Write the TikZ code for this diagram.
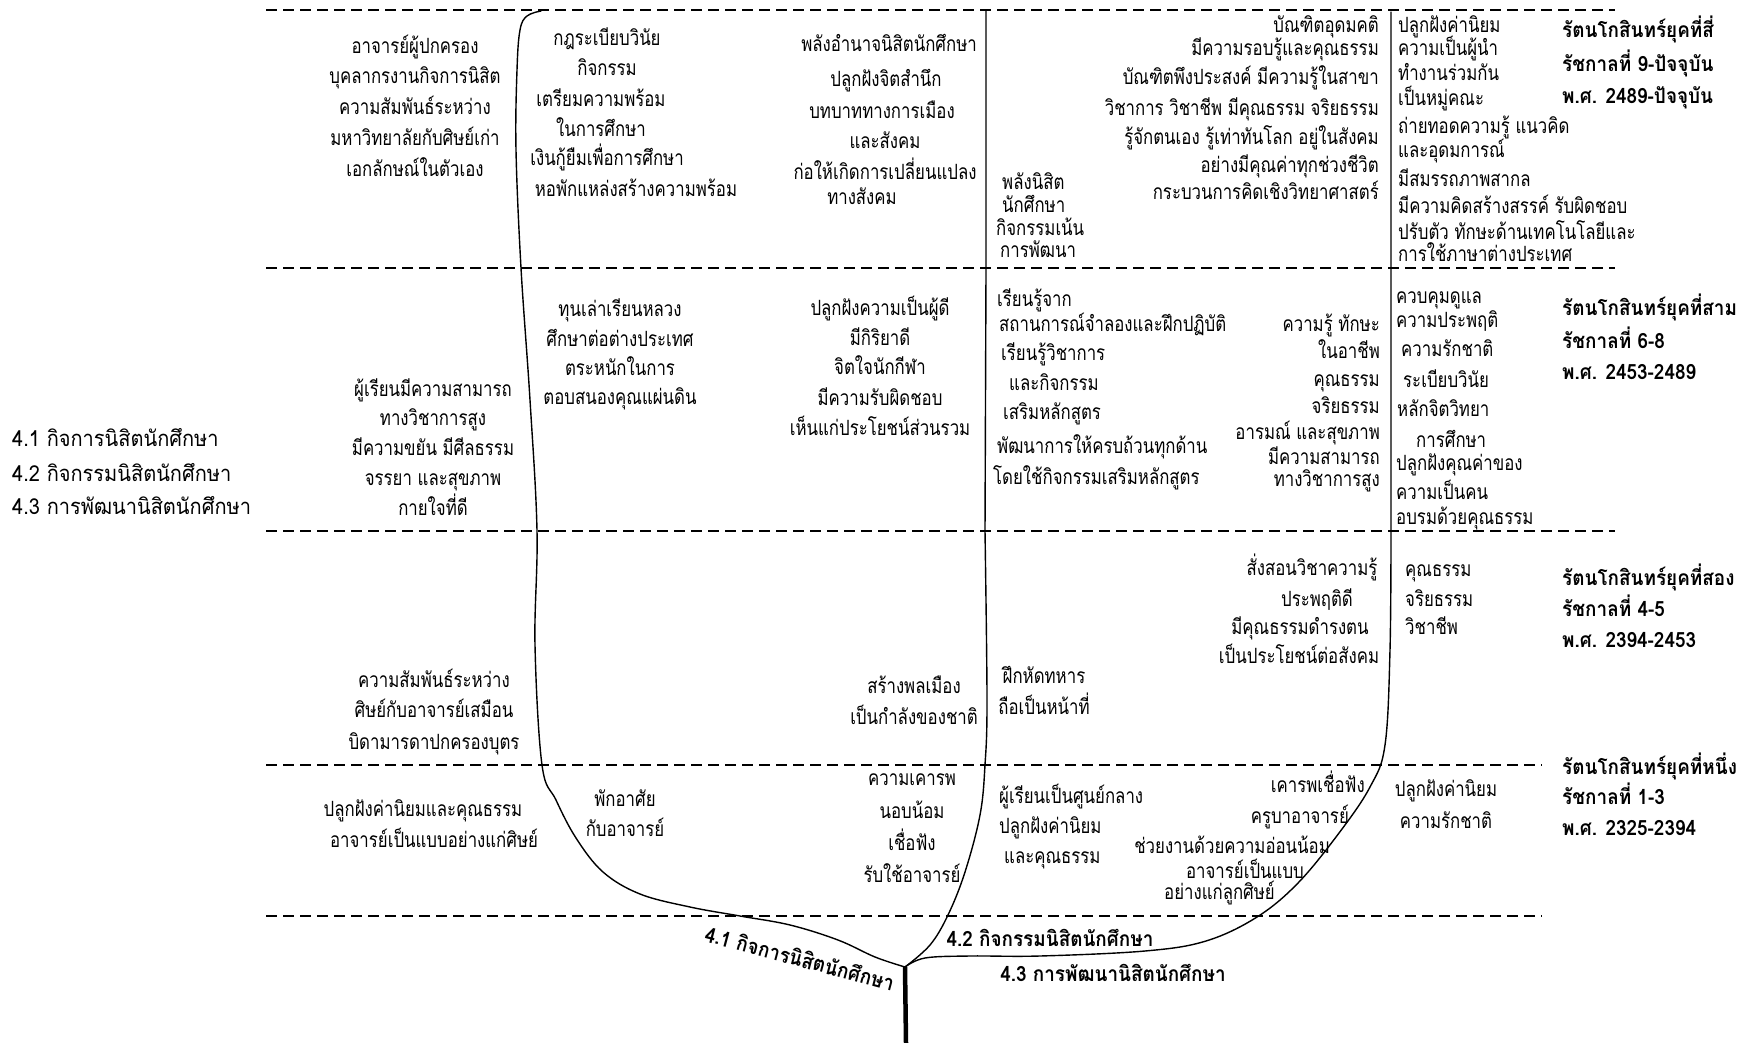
\documentclass[tikz,border=0pt]{standalone}
\usepackage{fontspec}
\newfontfamily\thbody[Script=Thai,FakeStretch=0.8]{Loma}
\newfontfamily\thside[Script=Thai,FakeStretch=0.91]{Loma}
\newfontfamily\thbold[Script=Thai,FakeStretch=0.9]{Loma}
\begin{document}
\begin{tikzpicture}[x=1pt,y=-1pt,
 tx/.style={font=\thbody\fontsize{21}{25}\selectfont, inner sep=0pt, anchor=base, yshift=-5.5pt},
 txl/.style={tx, anchor=base west},
 txr/.style={tx, anchor=base east},
 era/.style={font=\thbold\bfseries\fontsize{21}{25}\selectfont, inner sep=0pt, anchor=base west, yshift=-5.5pt},
 brl/.style={font=\thbold\bfseries\fontsize{21}{25}\selectfont, inner sep=0pt},
 side/.style={font=\thside\fontsize{22}{26}\selectfont, inner sep=0pt, anchor=base west, yshift=-6pt},
 sep/.style={line width=2.7pt, dash pattern=on 11pt off 6pt},
 branch/.style={line width=1.4pt, line cap=round},
 trunk/.style={line width=4.5pt}]
\useasboundingbox (0,0) rectangle (1742,1043);
\fill[white] (0,0) rectangle (1742,1043);
% separators
\coordinate (l0a) at (266,10);  \coordinate (l0b) at (1615,10);
\coordinate (l1a) at (266,268); \coordinate (l1b) at (1615,268);
\coordinate (l2a) at (266,531); \coordinate (l2b) at (1615,531);
\coordinate (l3a) at (266,765); \coordinate (l3b) at (1542,765);
\coordinate (l4a) at (266,916); \coordinate (l4b) at (1542,916);
\draw[sep] (l0a) -- (l0b);
\draw[sep] (l1a) -- (l1b);
\draw[sep] (l2a) -- (l2b);
\draw[sep] (l3a) -- (l3b);
\draw[sep] (l4a) -- (l4b);
% tree
\coordinate (J) at (905,967);
\coordinate (R) at (906,1043);
\draw[trunk] (J) -- (R);
\draw[branch] plot[smooth, tension=0.6] coordinates {(541,11) (527,16) (520,30) (517,70) (516,150) (521,268) (530,400) (537,531) (535,645) (542,765) (556,800) (576,838) (603,872) (640,894) (690,907) (740,916) (790,925) (838,940) (875,957) (J)};
\draw[branch] (986,10) -- (986,268) -- (985,531) -- plot[smooth, tension=0.6] coordinates {(985,531) (987,700) (985,765) (980,815) (965,872) (948,915) (930,945) (J)};
\draw[branch] (1391,12) -- (1391,531) -- plot[smooth, tension=0.6] coordinates {(1391,531) (1390,650) (1385,745) (1370,787) (1339,833) (1298,883) (1257,917) (1206,941) (1145,951) (1040,956) (970,956) (925,958) (J)};
% branch labels
\node[brl, rotate=-15] (b1) at (800,958) {4.1 กิจการนิสิตนักศึกษา};
\node[brl] (b2) at (1050,938) {4.2 กิจกรรมนิสิตนักศึกษา};
\node[brl] (b3) at (1113,973) {4.3 การพัฒนานิสิตนักศึกษา};
% side legend
\node[side] (s1) at (12,440) {4.1 กิจการนิสิตนักศึกษา};
\node[side] (s2) at (12,475) {4.2 กิจกรรมนิสิตนักศึกษา};
\node[side] (s3) at (12,508) {4.3 การพัฒนานิสิตนักศึกษา};
% ===== Row 1 =====
\node[tx] (a11) at (415,48) {อาจารย์ผู้ปกครอง};
\node[tx] (a12) at (415,78) {บุคลากรงานกิจการนิสิต};
\node[tx] (a13) at (415,109) {ความสัมพันธ์ระหว่าง};
\node[tx] (a14) at (415,140) {มหาวิทยาลัยกับศิษย์เก่า};
\node[tx] (a15) at (415,171) {เอกลักษณ์ในตัวเอง};
\node[tx] (b11) at (607,40) {กฎระเบียบวินัย};
\node[tx] (b12) at (607,70) {กิจกรรม};
\node[tx] (b13) at (601,101) {เตรียมความพร้อม};
\node[tx] (b14) at (601,131) {ในการศึกษา};
\node[tx] (b15) at (607,160) {เงินกู้ยืมเพื่อการศึกษา};
\node[tx] (b16) at (636,191) {หอพักแหล่งสร้างความพร้อม};
\node[tx] (c11) at (889,46) {พลังอำนาจนิสิตนักศึกษา};
\node[tx] (c12) at (886,81) {ปลูกฝังจิตสำนึก};
\node[tx] (c13) at (882,113) {บทบาททางการเมือง};
\node[tx] (c14) at (885,143) {และสังคม};
\node[tx] (c15) at (885,174) {ก่อให้เกิดการเปลี่ยนแปลง};
\node[tx] (c16) at (862,199) {ทางสังคม};
\node[txl] (d11) at (1002,184) {พลังนิสิต};
\node[txl] (d12) at (1002,207) {นักศึกษา};
\node[txl] (d13) at (996,230) {กิจกรรมเน้น};
\node[txl] (d14) at (1000,252) {การพัฒนา};
\node[txr] (e11) at (1379,27) {บัณฑิตอุดมคติ};
\node[txr] (e12) at (1379,50) {มีความรอบรู้และคุณธรรม};
\node[txr] (e13) at (1379,79) {บัณฑิตพึงประสงค์ มีความรู้ในสาขา};
\node[txr] (e14) at (1379,110) {วิชาการ วิชาชีพ มีคุณธรรม จริยธรรม};
\node[txr] (e15) at (1379,139) {รู้จักตนเอง รู้เท่าทันโลก อยู่ในสังคม};
\node[txr] (e16) at (1379,167) {อย่างมีคุณค่าทุกช่วงชีวิต};
\node[txr] (e17) at (1379,194) {กระบวนการคิดเชิงวิทยาศาสตร์};
\node[txl] (f11) at (1398,27) {ปลูกฝังค่านิยม};
\node[txl] (f12) at (1398,50) {ความเป็นผู้นำ};
\node[txl] (f13) at (1398,75) {ทำงานร่วมกัน};
\node[txl] (f14) at (1398,100) {เป็นหมู่คณะ};
\node[txl] (f15) at (1398,128) {ถ่ายทอดความรู้ แนวคิด};
\node[txl] (f16) at (1398,152) {และอุดมการณ์};
\node[txl] (f17) at (1398,181) {มีสมรรถภาพสากล};
\node[txl] (f18) at (1398,208) {มีความคิดสร้างสรรค์ รับผิดชอบ};
\node[txl] (f19) at (1398,234) {ปรับตัว ทักษะด้านเทคโนโลยีและ};
\node[txl] (f110) at (1398,256) {การใช้ภาษาต่างประเทศ};
\node[era] (g11) at (1562,32) {รัตนโกสินทร์ยุคที่สี่};
\node[era] (g12) at (1562,66) {รัชกาลที่ 9-ปัจจุบัน};
\node[era] (g13) at (1562,98) {พ.ศ. 2489-ปัจจุบัน};
% ===== Row 2 =====
\node[tx] (a21) at (433,391) {ผู้เรียนมีความสามารถ};
\node[tx] (a22) at (433,420) {ทางวิชาการสูง};
\node[tx] (a23) at (433,450) {มีความขยัน มีศีลธรรม};
\node[tx] (a24) at (433,480) {จรรยา และสุขภาพ};
\node[tx] (a25) at (433,510) {กายใจที่ดี};
\node[tx] (b21) at (620,311) {ทุนเล่าเรียนหลวง};
\node[tx] (b22) at (620,341) {ศึกษาต่อต่างประเทศ};
\node[tx] (b23) at (620,370) {ตระหนักในการ};
\node[tx] (b24) at (620,399) {ตอบสนองคุณแผ่นดิน};
\node[tx] (c21) at (880,310) {ปลูกฝังความเป็นผู้ดี};
\node[tx] (c22) at (880,340) {มีกิริยาดี};
\node[tx] (c23) at (880,369) {จิตใจนักกีฬา};
\node[tx] (c24) at (880,400) {มีความรับผิดชอบ};
\node[tx] (c25) at (880,430) {เห็นแก่ประโยชน์ส่วนรวม};
\node[txl] (d21) at (997,301) {เรียนรู้จาก};
\node[txl] (d22) at (999,326) {สถานการณ์จำลองและฝึกปฏิบัติ};
\node[txl] (d23) at (1001,355) {เรียนรู้วิชาการ};
\node[txl] (d24) at (1009,385) {และกิจกรรม};
\node[txl] (d25) at (1003,414) {เสริมหลักสูตร};
\node[txl] (d26) at (997,448) {พัฒนาการให้ครบถ้วนทุกด้าน};
\node[txl] (d27) at (993,479) {โดยใช้กิจกรรมเสริมหลักสูตร};
\node[txr] (e21) at (1380,326) {ความรู้ ทักษะ};
\node[txr] (e22) at (1380,353) {ในอาชีพ};
\node[txr] (e23) at (1380,381) {คุณธรรม};
\node[txr] (e24) at (1380,408) {จริยธรรม};
\node[txr] (e25) at (1380,434) {อารมณ์ และสุขภาพ};
\node[txr] (e26) at (1380,459) {มีความสามารถ};
\node[txr] (e27) at (1380,481) {ทางวิชาการสูง};
\node[txl] (f21) at (1396,298) {ควบคุมดูแล};
\node[txl] (f22) at (1396,322) {ความประพฤติ};
\node[txl] (f23) at (1401,351) {ความรักชาติ};
\node[txl] (f24) at (1403,382) {ระเบียบวินัย};
\node[txl] (f25) at (1397,411) {หลักจิตวิทยา};
\node[txl] (f26) at (1416,442) {การศึกษา};
\node[txl] (f27) at (1396,465) {ปลูกฝังคุณค่าของ};
\node[txl] (f28) at (1396,494) {ความเป็นคน};
\node[txl] (f29) at (1396,519) {อบรมด้วยคุณธรรม};
\node[era] (g21) at (1562,310) {รัตนโกสินทร์ยุคที่สาม};
\node[era] (g22) at (1562,343) {รัชกาลที่ 6-8};
\node[era] (g23) at (1562,374) {พ.ศ. 2453-2489};
% ===== Row 3 =====
\node[tx] (a31) at (434,682) {ความสัมพันธ์ระหว่าง};
\node[tx] (a32) at (434,712) {ศิษย์กับอาจารย์เสมือน};
\node[tx] (a33) at (434,744) {บิดามารดาปกครองบุตร};
\node[tx] (c31) at (914,688) {สร้างพลเมือง};
\node[tx] (c32) at (914,719) {เป็นกำลังของชาติ};
\node[tx] (d31) at (1044,678) {ฝึกหัดทหาร};
\node[tx] (d32) at (1044,709) {ถือเป็นหน้าที่};
\node[tx] (e31) at (1312,570) {สั่งสอนวิชาความรู้};
\node[tx] (e32) at (1317,601) {ประพฤติดี};
\node[tx] (e33) at (1300,629) {มีคุณธรรมดำรงตน};
\node[tx] (e34) at (1299,658) {เป็นประโยชน์ต่อสังคม};
\node[txl] (f31) at (1405,571) {คุณธรรม};
\node[txl] (f32) at (1405,601) {จริยธรรม};
\node[txl] (f33) at (1405,629) {วิชาชีพ};
\node[era] (g31) at (1562,580) {รัตนโกสินทร์ยุคที่สอง};
\node[era] (g32) at (1562,611) {รัชกาลที่ 4-5};
\node[era] (g33) at (1562,642) {พ.ศ. 2394-2453};
% ===== Row 4 =====
\node[tx] (a41) at (423,811) {ปลูกฝังค่านิยมและคุณธรรม};
\node[tx] (a42) at (434,842) {อาจารย์เป็นแบบอย่างแก่ศิษย์};
\node[tx] (b41) at (625,801) {พักอาศัย};
\node[tx] (b42) at (625,831) {กับอาจารย์};
\node[tx] (c41) at (912,780) {ความเคารพ};
\node[tx] (c42) at (912,813) {นอบน้อม};
\node[tx] (c43) at (912,845) {เชื่อฟัง};
\node[tx] (c44) at (912,877) {รับใช้อาจารย์};
\node[txl] (d41) at (999,798) {ผู้เรียนเป็นศูนย์กลาง};
\node[txl] (d42) at (999,828) {ปลูกฝังค่านิยม};
\node[txl] (d43) at (1004,858) {และคุณธรรม};
\node[txr] (e41) at (1365,787) {เคารพเชื่อฟัง};
\node[txr] (e42) at (1349,818) {ครูบาอาจารย์};
\node[txr] (e43) at (1330,848) {ช่วยงานด้วยความอ่อนน้อม};
\node[txr] (e44) at (1304,873) {อาจารย์เป็นแบบ};
\node[txr] (e45) at (1275,894) {อย่างแก่ลูกศิษย์};
\node[tx] (f41) at (1446,791) {ปลูกฝังค่านิยม};
\node[tx] (f42) at (1446,823) {ความรักชาติ};
\node[era] (g41) at (1562,769) {รัตนโกสินทร์ยุคที่หนึ่ง};
\node[era] (g42) at (1562,799) {รัชกาลที่ 1-3};
\node[era] (g43) at (1562,830) {พ.ศ. 2325-2394};
\end{tikzpicture}
\end{document}
